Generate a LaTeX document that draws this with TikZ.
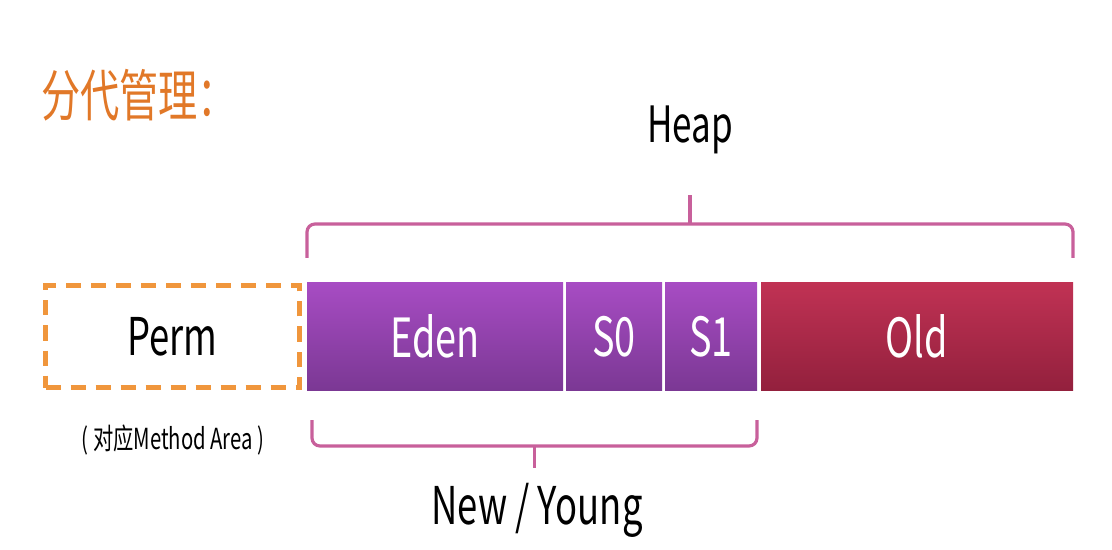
\documentclass[tikz,border=0pt]{standalone}
\usepackage{fontspec}
\usepackage{graphicx}
\newfontfamily\yahei{Noto Sans CJK SC}
\usetikzlibrary{positioning,calc}

\definecolor{titleorange}{HTML}{E17828}
\definecolor{permorange}{HTML}{F0963C}
\definecolor{edentop}{HTML}{A74CC3}
\definecolor{edenbot}{HTML}{7B3894}
\definecolor{oldtop}{HTML}{C03254}
\definecolor{oldbot}{HTML}{93203D}
\definecolor{bracepink}{HTML}{C8609B}

% 字が縦長なので横を縮める
\newcommand{\narrow}[1]{\scalebox{0.7}[1]{#1}}

\tikzset{
  region/.style={minimum height=53.5pt, inner sep=0pt, outer sep=0pt,
    text=white, font=\yahei\fontsize{27}{30}\selectfont},
  younggen/.style={region, top color=edentop, bottom color=edenbot},
  oldgen/.style={region, top color=oldtop, bottom color=oldbot},
  permbox/.style={draw=permorange, line width=2.5pt,
    dash pattern=on 7.5pt off 5pt, minimum width=127pt, minimum height=51pt,
    font=\yahei\fontsize{26}{30}\selectfont},
  brace/.style={draw=bracepink, line width=1.6pt, rounded corners=4pt},
  label/.style={font=\yahei\fontsize{25}{30}\selectfont},
}

\begin{document}
\begin{tikzpicture}[x=0.5pt, y=-0.5pt]
  \useasboundingbox (0, 0) rectangle (1112, 550);

  \node[anchor=west, text=titleorange, font=\yahei\fontsize{28}{32}\selectfont]
    (title) at (34, 95) {\narrow{分代管理：}};

  % 永久代
  \node[permbox] (perm) at (172.5, 336.5) {\narrow{Perm}};
  \node[font=\yahei\fontsize{14.5}{18}\selectfont] (permnote) at (173, 440)
    {\narrow{( 对应Method Area )}};

  % ヒープ
  \node[younggen, minimum width=128pt] (eden) at (435, 336.5) {\narrow{Eden}};
  \node[younggen, minimum width=48pt, right=1.5pt of eden] (s0) {\narrow{S0}};
  \node[younggen, minimum width=46pt, right=1.5pt of s0] (s1) {\narrow{S1}};
  \node[oldgen, minimum width=156pt, right=2pt of s1] (old) {\narrow{Old}};

  % Heap の括弧
  \coordinate (hl) at ($(eden.north west)+(0,-25)$);
  \coordinate (hr) at ($(old.north east)+(0,-25)$);
  \draw[brace] (hl) -- ++(0,-34) -| (hr);
  \coordinate (hm) at ($(hl)!0.5!(hr)+(0,-34)$);
  \draw[brace] (hm) -- ++(0,-29);
  \node[label] (heap) at (690, 130) {\narrow{Heap}};

  % New / Young の括弧
  \coordinate (yl) at ($(eden.south west)+(5,30)$);
  \coordinate (yr) at ($(s1.south east)+(0,30)$);
  \draw[brace] (yl) -- ++(0,26) -| (yr);
  \coordinate (ym) at ($(yl)!0.5!(yr)+(0,26)$);
  \draw[brace] (ym) -- ++(0,22);
  \node[label, font=\yahei\fontsize{26}{30}\selectfont] (young) at (537, 510)
    {\narrow{New / Young}};
\end{tikzpicture}
\end{document}
